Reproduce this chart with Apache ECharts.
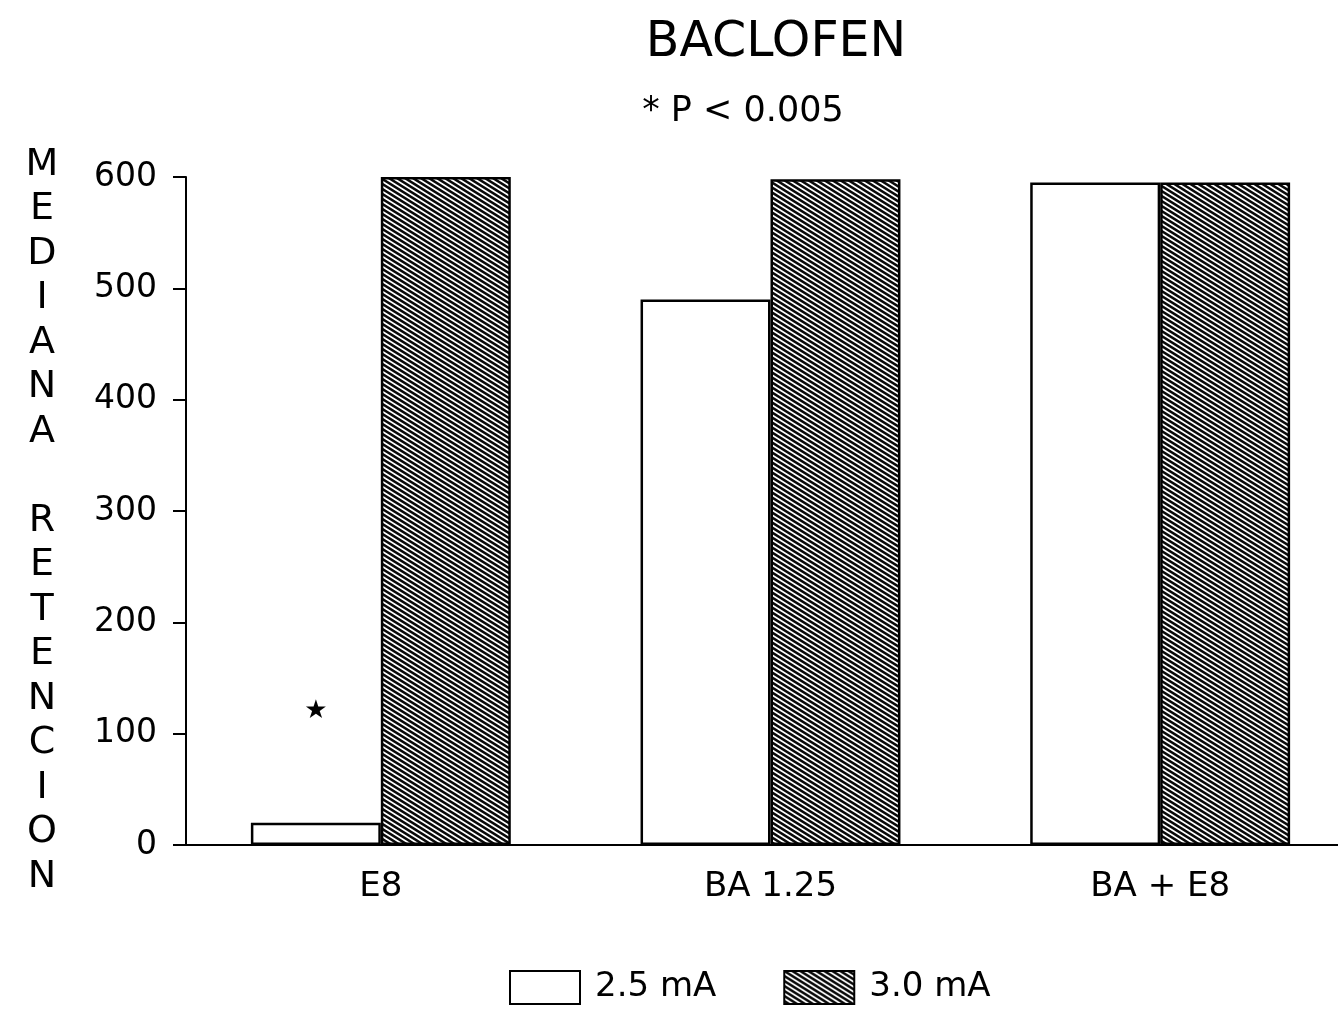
<!DOCTYPE html>
<html>
<head>
<meta charset="utf-8">
<script src="https://cdn.jsdelivr.net/npm/echarts@6/dist/echarts.min.js"></script>
<style>
html,body{margin:0;padding:0;background:#fff;overflow:hidden;width:1338px;height:1017px;}
#chart{width:1355px;height:1017px;}
</style>
</head>
<body>
<div id="chart"></div>
<script>
const categories = ['E8', 'BA 1.25', 'BA + E8'];
const seriesNames = ['2.5 mA', '3.0 mA'];
const values25 = [20, 490, 595];
const values30 = [600, 598, 595];
const yTicks = [0, 100, 200, 300, 400, 500, 600];
const starMarks = ['★', '', ''];
const yName = 'MEDIANA RETENCION';

const FONT = 'DejaVu Sans';

// hatch pattern (lines descending to the right)
const pc = document.createElement('canvas');
pc.width = 8; pc.height = 5;
const ctx = pc.getContext('2d');
ctx.fillStyle = '#ffffff';
ctx.fillRect(0, 0, 8, 5);
ctx.strokeStyle = '#0a0a0a';
ctx.lineWidth = 2.5;
ctx.beginPath();
for (let o = -2; o <= 2; o++) {
  ctx.moveTo(-8, -5 + o * 5);
  ctx.lineTo(16, 10 + o * 5);
}
ctx.stroke();

const chart = echarts.init(document.getElementById('chart'), null, {renderer: 'canvas'});

const data25 = values25.map((v, i) => starMarks[i] ? {
  value: v,
  label: {show: true, position: 'top', distance: 98, formatter: starMarks[i],
          fontSize: 26, color: '#000', fontFamily: FONT}
} : v);

chart.setOption({
  backgroundColor: '#ffffff',
  animation: false,
  title: [
    {text: 'BACLOFEN', left: 771, top: 14, textAlign: 'center',
     textStyle: {fontFamily: FONT, fontSize: 49, fontWeight: 'normal', color: '#000'}},
    {text: '* P < 0.005', left: 738, top: 89, textAlign: 'center',
     textStyle: {fontFamily: FONT, fontSize: 35, fontWeight: 'normal', color: '#000'}}
  ],
  graphic: [{
    type: 'text',
    x: 42,
    y: 521,
    style: {
      text: yName.split('').join('\n'),
      fontFamily: FONT,
      fontSize: 38,
      lineHeight: 44.5,
      fill: '#000',
      align: 'center',
      verticalAlign: 'middle'
    }
  }],
  legend: {
    data: seriesNames,
    top: 965,
    left: 504,
    icon: 'rect',
    itemWidth: 70,
    itemHeight: 33,
    itemGap: 67,
    textStyle: {fontFamily: FONT, fontSize: 34, color: '#000', padding: [6, 0, 0, 10]},
    selectedMode: false
  },
  grid: {left: 186, right: 0, top: 177, bottom: 172},
  xAxis: {
    type: 'category',
    data: categories,
    axisLine: {lineStyle: {color: '#000', width: 2}},
    axisTick: {show: false},
    axisLabel: {fontFamily: FONT, fontSize: 34, color: '#000', margin: 25}
  },
  yAxis: {
    type: 'value',
    min: yTicks[0],
    max: yTicks[yTicks.length - 1],
    interval: yTicks[1] - yTicks[0],
    axisLine: {show: true, lineStyle: {color: '#000', width: 2}},
    axisTick: {show: true, length: 13, lineStyle: {color: '#000', width: 2}},
    axisLabel: {fontFamily: FONT, fontSize: 33, color: '#000', margin: 29},
    splitLine: {show: false}
  },
  series: [
    {
      name: seriesNames[0],
      type: 'bar',
      data: data25,
      barGap: '0%',
      barCategoryGap: '33.3%',
      itemStyle: {color: '#ffffff', borderColor: '#000', borderWidth: 2.5}
    },
    {
      name: seriesNames[1],
      type: 'bar',
      data: values30,
      barGap: '0%',
      barCategoryGap: '33.3%',
      itemStyle: {color: {image: pc, repeat: 'repeat'}, borderColor: '#000', borderWidth: 2.5}
    }
  ]
});
</script>
</body>
</html>
